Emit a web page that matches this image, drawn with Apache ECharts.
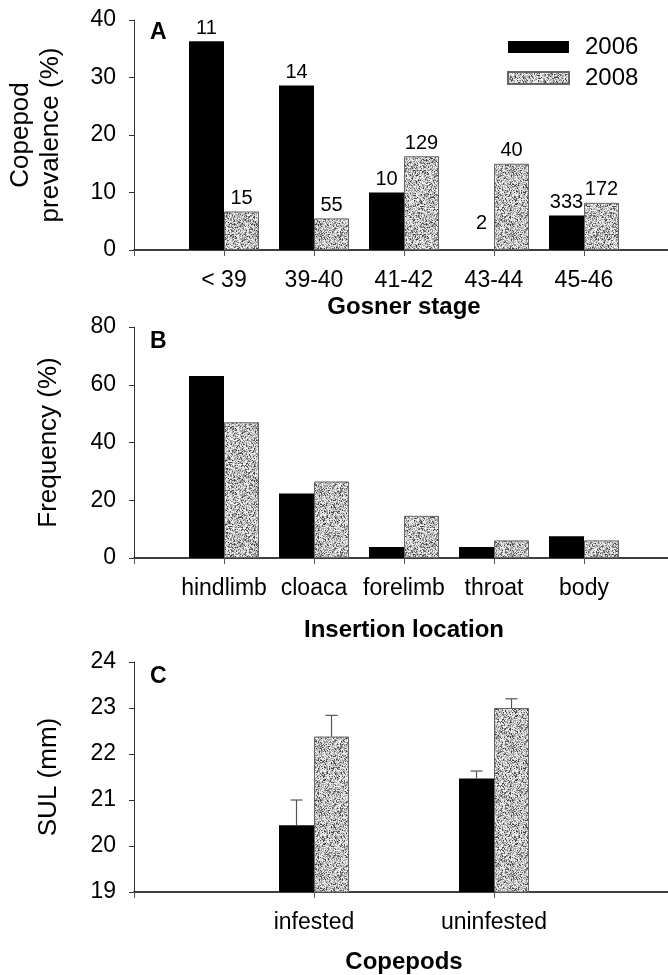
<!DOCTYPE html>
<html><head><meta charset="utf-8">
<script src="https://cdn.jsdelivr.net/npm/echarts@6/dist/echarts.min.js"></script>
<style>html,body{margin:0;padding:0;background:#fff}#c{width:668px;height:975px}</style>
</head><body><div id="c"></div>
<script>
// ---- data ----
const stages = ['< 39', '39-40', '41-42', '43-44', '45-46'];
const prev2006 = [36.3, 28.6, 10.0, 0, 6.0];
const prev2008 = [6.7, 5.5, 16.3, 15.0, 8.2];
const n2006 = ['11', '14', '10', '2', '333'];
const n2008 = ['15', '55', '129', '40', '172'];

const locations = ['hindlimb', 'cloaca', 'forelimb', 'throat', 'body'];
const freq2006 = [63.0, 22.3, 3.8, 3.8, 7.5];
const freq2008 = [47.0, 26.5, 14.6, 6.1, 6.1];

const copepodGroups = ['infested', 'uninfested'];
const sul2006 = [20.45, 21.47];
const sul2008 = [22.38, 23.0];
const sulErr2006 = [0.55, 0.16];
const sulErr2008 = [0.46, 0.2];

const years = ['2006', '2008'];
// ---- end data ----

const FF = '"Liberation Sans", Arial, sans-serif';
const pad = a => ['', ...a, ''];
const padV = a => ['-', ...a, '-'];

function makePattern() {
  const W = 64, c = document.createElement('canvas');
  c.width = W; c.height = W;
  const ctx = c.getContext('2d');
  const img = ctx.createImageData(W, W);
  let s = 98765;
  const rnd = () => (s = (s * 1103515245 + 12345) & 0x7fffffff) / 0x7fffffff;
  for (let i = 0; i < W * W; i++) {
    const r = rnd();
    const v = r < 0.17 ? 50 + rnd() * 70 : (r < 0.5 ? 140 + rnd() * 50 : 200 + rnd() * 55);
    img.data[i * 4] = img.data[i * 4 + 1] = img.data[i * 4 + 2] = v;
    img.data[i * 4 + 3] = 255;
  }
  ctx.putImageData(img, 0, 0);
  return c;
}
const pattern = { image: makePattern(), repeat: 'repeat' };

const grids = [
  { left: 134, top: 20, width: 540, height: 230 },
  { left: 134, top: 327, width: 540, height: 231 },
  { left: 134, top: 662, width: 540, height: 230 }
].map(g => Object.assign(g, { containLabel: false, outerBoundsMode: 'none' }));

function xAx(i, cats, name, gap) {
  return {
    gridIndex: i, type: 'category', boundaryGap: false, data: cats,
    axisLine: { show: true, lineStyle: { color: '#000', width: 1.5 } },
    axisTick: { show: true, length: 6, lineStyle: { color: '#555' } },
    axisLabel: { interval: 0, fontSize: 23, color: '#000', margin: 19, fontFamily: FF },
    splitLine: { show: false },
    name: name, nameLocation: 'middle', nameGap: gap,
    nameTextStyle: { fontSize: 24, fontWeight: 'bold', color: '#000', fontFamily: FF }
  };
}
function yAx(i, min, max, interval, name, gap) {
  return {
    gridIndex: i, type: 'value', min, max, interval,
    axisLine: { show: true, lineStyle: { color: '#333', width: 1 } },
    axisTick: { show: true, length: 5, lineStyle: { color: '#333' } },
    splitLine: { show: false },
    axisLabel: { fontSize: 23, color: '#000', margin: 18, fontFamily: FF },
    name: name, nameLocation: 'middle', nameGap: gap, nameRotate: 90,
    nameTextStyle: { fontSize: 26, color: '#000', lineHeight: 30, fontFamily: FF }
  };
}

const style2006 = { color: '#000' };
const style2008 = { color: pattern, borderColor: '#666', borderWidth: 1 };

function labelled(vals, labels) {
  return padV(vals.map((v, i) => ({
    value: v,
    label: {
      show: true, position: 'top', formatter: labels[i], fontSize: 20, color: '#000', fontFamily: FF,
      distance: 3, offset: v === 0 ? [5, -14] : [0, 0]
    }
  })));
}

function errSeries(vals, errs, offset, axisIdx) {
  return {
    type: 'custom', xAxisIndex: axisIdx, yAxisIndex: axisIdx, z: 10, silent: true,
    data: vals.map((v, i) => [i + 1, v, v + errs[i]]),
    renderItem: (params, api) => {
      const b = api.coord([api.value(0), api.value(1)]);
      const t = api.coord([api.value(0), api.value(2)]);
      const cx = b[0] + offset;
      return {
        type: 'group', children: [
          { type: 'line', shape: { x1: cx, y1: b[1], x2: cx, y2: t[1] }, style: { stroke: '#555', lineWidth: 1.2 } },
          { type: 'line', shape: { x1: cx - 6, y1: t[1], x2: cx + 6, y2: t[1] }, style: { stroke: '#555', lineWidth: 1.2 } }
        ]
      };
    }
  };
}

const bar = (name, xi, data, st) => ({
  name, type: 'bar', xAxisIndex: xi, yAxisIndex: xi, data, barWidth: 35, barGap: '0%', itemStyle: st,
  emphasis: { disabled: true }
});

const option = {
  animation: false,
  backgroundColor: '#fff',
  grid: grids,
  legend: {
    data: years, orient: 'vertical', left: 502, top: 30, itemWidth: 61, itemHeight: 12, itemGap: 7,
    icon: 'rect', selectedMode: false,
    textStyle: { fontSize: 24, color: '#000', fontFamily: FF, padding: [0, 0, 0, 11] }
  },
  xAxis: [
    xAx(0, pad(stages), 'Gosner stage', 45),
    xAx(1, pad(locations), 'Insertion location', 60),
    xAx(2, pad(copepodGroups), 'Copepods', 58)
  ],
  yAxis: [
    yAx(0, 0, 40, 10, 'Copepod\nprevalence (%)', 68),
    yAx(1, 0, 80, 20, 'Frequency (%)', 70),
    yAx(2, 19, 24, 1, 'SUL (mm)', 70)
  ],
  graphic: [
    { type: 'text', left: 150, top: 21, style: { text: 'A', font: 'bold 23px ' + FF, fill: '#000' } },
    { type: 'text', left: 150, top: 330, style: { text: 'B', font: 'bold 23px ' + FF, fill: '#000' } },
    { type: 'text', left: 150, top: 665, style: { text: 'C', font: 'bold 23px ' + FF, fill: '#000' } }
  ],
  series: [
    bar('2006', 0, labelled(prev2006, n2006), style2006),
    bar('2008', 0, labelled(prev2008, n2008), style2008),
    bar('2006', 1, padV(freq2006), style2006),
    bar('2008', 1, padV(freq2008), style2008),
    bar('2006', 2, padV(sul2006), style2006),
    bar('2008', 2, padV(sul2008), style2008),
    errSeries(sul2006, sulErr2006, -17.5, 2),
    errSeries(sul2008, sulErr2008, 17.5, 2)
  ]
};

const chart = echarts.init(document.getElementById('c'), null, { renderer: 'canvas' });
chart.setOption(option);
</script>
</body></html>
